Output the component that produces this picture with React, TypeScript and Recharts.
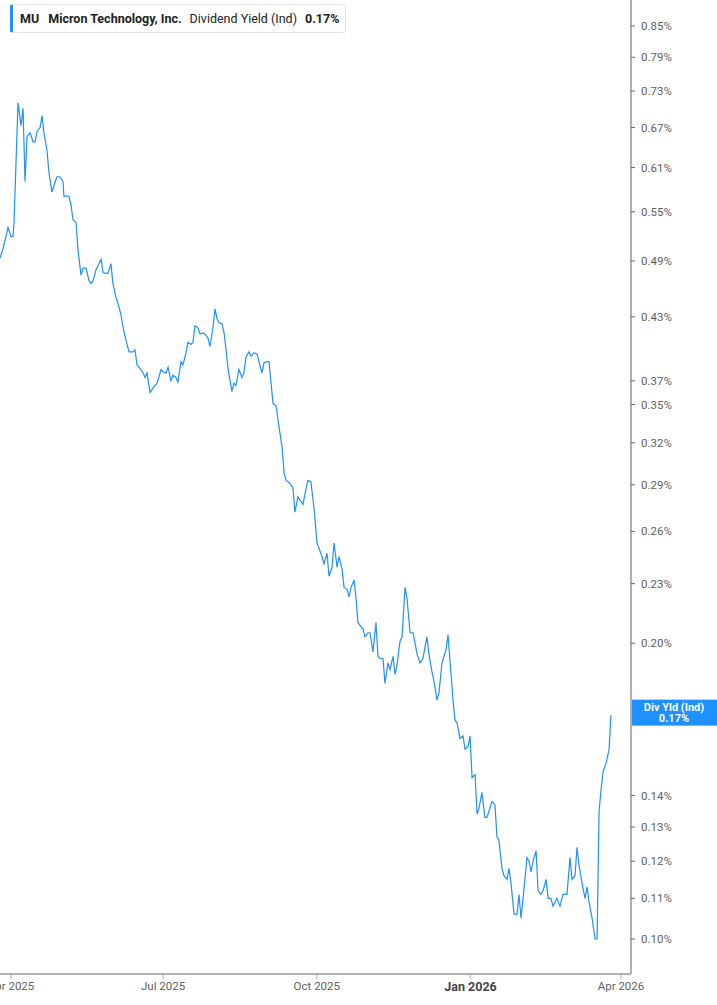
import { LineChart, Line, XAxis, YAxis, ReferenceLine } from 'recharts'

// days since 1 Apr 2025
const days = [
  -6.6, -4.8, -2.4, -1.8, 0, 1.2, 1.8, 4.2, 6.0, 7.2,
  8.4, 9.6, 11.4, 13.2, 14.4, 15.6, 17.4, 18.6, 19.7, 21.5,
  22.7, 24.5, 26.3, 27.5, 29.3, 31.1, 31.7, 33.5, 34.7, 35.9,
  37.1, 38.9, 40.1, 41.9, 43.1, 44.9, 46.7, 47.9, 49.1, 50.9,
  52.1, 53.9, 55.1, 56.8, 58.0, 59.8, 61.0, 62.8, 64.0, 65.8,
  67.0, 68.8, 70.6, 73.0, 74.2, 75.4, 77.2, 79.0, 80.2, 81.4,
  83.2, 85.0, 87.4, 89.8, 91.0, 92.8, 94.0, 95.7, 96.9, 98.7,
  99.9, 101.7, 102.9, 104.7, 105.9, 107.7, 108.9, 110.1, 111.9, 113.1,
  114.9, 116.1, 117.9, 119.1, 120.9, 122.1, 123.3, 124.5, 126.3, 127.5,
  128.7, 129.9, 132.2, 133.4, 134.6, 136.4, 138.2, 139.4, 140.6, 142.4,
  143.6, 145.4, 147.2, 148.4, 150.2, 151.4, 153.2, 154.4, 155.6, 156.8,
  158.6, 160.4, 162.2, 163.4, 164.6, 167.0, 168.7, 169.9, 171.7, 174.7,
  176.5, 177.7, 179.5, 180.7, 181.3, 183.1, 184.3, 186.1, 187.3, 189.1,
  190.3, 192.1, 193.3, 195.1, 196.3, 198.1, 199.3, 201.1, 202.3, 203.5,
  205.3, 206.4, 207.6, 209.4, 210.6, 211.8, 213.6, 214.8, 216.6, 218.4,
  219.6, 220.8, 222.6, 223.8, 225.6, 226.8, 228.6, 229.8, 231.0, 232.8,
  234.0, 235.8, 237.0, 238.8, 240.6, 241.8, 243.0, 244.7, 246.5, 247.7,
  248.9, 250.1, 251.9, 253.1, 254.9, 256.1, 257.9, 259.1, 260.3, 261.5,
  263.3, 264.5, 265.7, 266.9, 268.7, 270.5, 271.7, 273.5, 274.7, 275.9,
  277.7, 278.9, 280.1, 281.8, 283.6, 284.8, 286.6, 287.8, 289.6, 290.8,
  292.0, 293.8, 295.0, 296.8, 298.0, 299.2, 301.0, 302.8, 304.0, 305.2,
  306.4, 308.8, 310.0, 311.2, 312.4, 314.2, 315.4, 317.2, 318.4, 320.2,
  321.4, 323.1, 324.3, 325.5, 326.7, 328.5, 330.3, 331.5, 332.7, 334.5,
  335.7, 337.5, 338.7, 339.9, 341.7, 343.5, 344.7, 345.9, 347.7, 349.5,
  350.7, 351.9, 353.1, 354.3, 356.1, 357.9, 359.0,
]

// dividend yield, %
const divYield = [
  0.493, 0.504, 0.524, 0.530, 0.519, 0.519, 0.536, 0.710, 0.673, 0.701,
  0.590, 0.656, 0.662, 0.648, 0.648, 0.664, 0.670, 0.689, 0.662, 0.636,
  0.603, 0.576, 0.589, 0.597, 0.597, 0.590, 0.570, 0.571, 0.570, 0.559,
  0.540, 0.536, 0.503, 0.474, 0.482, 0.482, 0.468, 0.465, 0.468, 0.480,
  0.485, 0.492, 0.477, 0.476, 0.476, 0.487, 0.465, 0.450, 0.444, 0.432,
  0.420, 0.407, 0.396, 0.396, 0.398, 0.384, 0.381, 0.377, 0.373, 0.377,
  0.360, 0.364, 0.368, 0.380, 0.378, 0.377, 0.382, 0.370, 0.375, 0.373,
  0.369, 0.387, 0.384, 0.395, 0.405, 0.403, 0.405, 0.421, 0.419, 0.413,
  0.414, 0.413, 0.409, 0.401, 0.420, 0.438, 0.428, 0.424, 0.423, 0.414,
  0.398, 0.380, 0.361, 0.368, 0.366, 0.380, 0.373, 0.377, 0.391, 0.396,
  0.392, 0.395, 0.394, 0.387, 0.377, 0.386, 0.387, 0.387, 0.368, 0.351,
  0.349, 0.332, 0.317, 0.298, 0.293, 0.291, 0.288, 0.272, 0.282, 0.277,
  0.287, 0.293, 0.292, 0.280, 0.275, 0.253, 0.250, 0.245, 0.241, 0.247,
  0.234, 0.239, 0.253, 0.239, 0.245, 0.238, 0.228, 0.227, 0.223, 0.228,
  0.232, 0.223, 0.210, 0.208, 0.207, 0.203, 0.205, 0.205, 0.196, 0.210,
  0.194, 0.193, 0.193, 0.182, 0.191, 0.188, 0.194, 0.186, 0.190, 0.201,
  0.203, 0.228, 0.222, 0.205, 0.205, 0.200, 0.195, 0.191, 0.193, 0.198,
  0.203, 0.195, 0.187, 0.183, 0.175, 0.178, 0.191, 0.194, 0.197, 0.204,
  0.186, 0.175, 0.167, 0.166, 0.160, 0.161, 0.156, 0.157, 0.161, 0.146,
  0.147, 0.134, 0.136, 0.141, 0.133, 0.133, 0.136, 0.138, 0.137, 0.127,
  0.126, 0.118, 0.116, 0.115, 0.118, 0.114, 0.106, 0.106, 0.111, 0.105,
  0.110, 0.121, 0.120, 0.117, 0.120, 0.123, 0.112, 0.111, 0.112, 0.115,
  0.110, 0.110, 0.108, 0.109, 0.110, 0.108, 0.111, 0.111, 0.111, 0.121,
  0.115, 0.116, 0.124, 0.119, 0.114, 0.110, 0.113, 0.109, 0.105, 0.100,
  0.100, 0.135, 0.142, 0.148, 0.151, 0.156, 0.169,
]

const monthTicks = [0, 91, 183, 275, 365]
const monthLabels = ['Apr 2025', 'Jul 2025', 'Oct 2025', 'Jan 2026', 'Apr 2026']
const yieldTicks = [0.10, 0.11, 0.12, 0.13, 0.14, 0.20, 0.23, 0.26, 0.29, 0.32, 0.35, 0.37, 0.43, 0.49, 0.55, 0.61, 0.67, 0.73, 0.79, 0.85]
const lastYield = 0.17

const BLUE = '#1e90ff'
const FONT = 'Roboto, "Noto Sans", sans-serif'

const data = days.map((d, i) => ({ day: d, y: divYield[i] }))

const MonthTick = ({ x, y, payload }: any) => {
  const i = monthTicks.indexOf(payload.value)
  const isYear = monthLabels[i]?.startsWith('Jan')
  return (
    <text x={x} y={y} dy="0.71em" textAnchor="middle" fontFamily={FONT}
      fontSize={isYear ? 12.5 : 11.5} fontWeight={isYear ? 700 : 400} fill={isYear ? '#444' : '#5f5f5f'}>
      {monthLabels[i]}
    </text>
  )
}

const LastValueTag = ({ viewBox }: any) => {
  if (!viewBox) return null
  const x = viewBox.x + viewBox.width + 1
  const y = viewBox.y
  return (
    <g>
      <path d={`M${x - 1},${y - 5} L${x + 4},${y} L${x - 1},${y + 5} Z`} fill="#8aa9c9" />
      <rect x={x} y={y - 13} width={86} height={26} fill={BLUE} />
      <text x={x + 42} y={y - 2} textAnchor="middle" fill="#fff" fontFamily={FONT} fontSize={11} fontWeight={700}>Div Yld (Ind)</text>
      <text x={x + 42} y={y + 9} textAnchor="middle" fill="#fff" fontFamily={FONT} fontSize={11} fontWeight={700}>{lastYield.toFixed(2)}%</text>
    </g>
  )
}

export default function App() {
  return (
    <div style={{ position: 'absolute', left: 0, top: 0, width: 717, height: 1005, background: '#fff', fontFamily: FONT }}>
      <LineChart width={717} height={1005} data={data} margin={{ top: 0, right: 0, left: 0, bottom: 0 }}>
        <XAxis
          dataKey="day"
          type="number"
          domain={[-6.58, 371]}
          allowDataOverflow
          ticks={monthTicks}
          tick={<MonthTick />}
          height={31}
          tickSize={5}
          tickMargin={3}
          axisLine={{ stroke: '#b0b0b0', strokeWidth: 2 }}
          tickLine={{ stroke: '#b0b0b0' }}
        />
        <YAxis
          orientation="right"
          scale="log"
          type="number"
          domain={[0.09212, 0.9035]}
          allowDataOverflow
          ticks={yieldTicks}
          interval={0}
          width={86}
          tickSize={4}
          tickMargin={6}
          tickFormatter={(v: number) => `${v.toFixed(2)}%`}
          tick={{ fill: '#5f5f5f', fontSize: 11.5, fontFamily: FONT, textAnchor: 'start' }}
          axisLine={{ stroke: '#b0b0b0', strokeWidth: 2 }}
          tickLine={{ stroke: '#666' }}
        />
        <ReferenceLine y={lastYield} stroke="none" label={<LastValueTag />} />
        <Line
          type="linear"
          dataKey="y"
          stroke={BLUE}
          strokeWidth={1.2}
          dot={false}
          isAnimationActive={false}
        />
      </LineChart>
      <div style={{
        position: 'absolute', left: 10, top: 4, height: 27, width: 332,
        border: '1px solid #e4e4e4', borderLeft: `3px solid ${BLUE}`, borderRadius: 3,
        background: '#fff', display: 'flex', alignItems: 'center', fontSize: 12.5,
        color: '#222', whiteSpace: 'nowrap', boxSizing: 'content-box',
      }}>
        <span style={{ fontWeight: 700, marginLeft: 7 }}>MU</span>
        <span style={{ fontWeight: 700, marginLeft: 9 }}>Micron Technology, Inc.</span>
        <span style={{ marginLeft: 8 }}>Dividend Yield (Ind)</span>
        <span style={{ fontWeight: 700, marginLeft: 8 }}>0.17%</span>
      </div>
    </div>
  )
}
